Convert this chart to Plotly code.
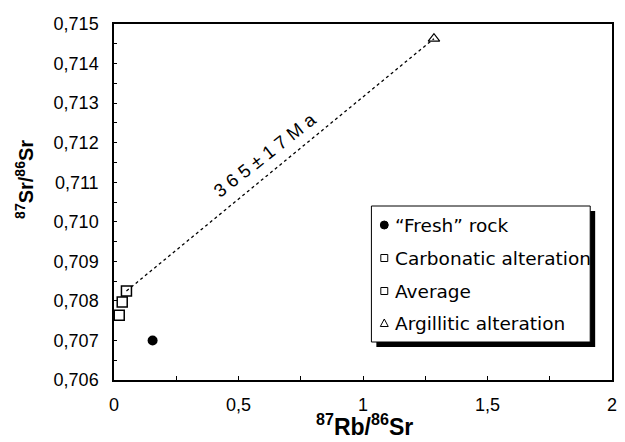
import plotly.graph_objects as go

# 87Rb/86Sr versus 87Sr/86Sr for the sample groups
fresh_rb = [0.155]
fresh_sr = [0.70700]
carb_rb = [0.021, 0.033]
carb_sr = [0.70764, 0.70797]
avg_rb = [0.050]
avg_sr = [0.70825]
argil_rb = [1.285]
argil_sr = [0.71463]

age_label = "365±17 Ma"
legend_labels = ["\u201cFresh\u201d rock", "Carbonatic alteration", "Average", "Argillitic alteration"]
legend_symbols = ["circle-filled", "square", "square", "triangle"]

x_ticks = [0, 0.5, 1, 1.5, 2]
y_ticks = [0.706, 0.707, 0.708, 0.709, 0.710, 0.711, 0.712, 0.713, 0.714, 0.715]

FONT = "Liberation Sans, Arial, sans-serif"
LEG_FONT = "DejaVu Sans, sans-serif"

# figure geometry (pixels)
FW, FH = 625, 442
ML, MR, MT, MB = 114, 8, 24, 62
PW, PH = FW - ML - MR, FH - MT - MB


def pxx(x):
    return (x - ML) / PW


def pxy(y):
    return (FH - MB - y) / PH


fig = go.Figure()

# isochron through the average carbonatic and argillitic samples
iso_x = [avg_rb[0], argil_rb[0]]
iso_y = [avg_sr[0], argil_sr[0]]
fig.add_trace(go.Scatter(x=iso_x, y=iso_y, mode="lines",
                         line=dict(color="black", width=1.3, dash="dot"),
                         hoverinfo="skip"))

fig.add_trace(go.Scatter(x=fresh_rb, y=fresh_sr, mode="markers", name=legend_labels[0],
                         marker=dict(symbol="circle", size=10, color="black")))
fig.add_trace(go.Scatter(x=carb_rb, y=carb_sr, mode="markers", name=legend_labels[1],
                         marker=dict(symbol="square-open", size=10, color="black",
                                     line=dict(width=1.5))))
fig.add_trace(go.Scatter(x=avg_rb, y=avg_sr, mode="markers", name=legend_labels[2],
                         marker=dict(symbol="square-open", size=10, color="black",
                                     line=dict(width=1.5))))
fig.add_trace(go.Scatter(x=argil_rb, y=argil_sr, mode="markers", name=legend_labels[3],
                         marker=dict(symbol="triangle-up-open", size=10, color="black",
                                     line=dict(width=1.2))))

# age label along the isochron
slope = (iso_y[1] - iso_y[0]) / (iso_x[1] - iso_x[0])
lab_x = 0.608
lab_y = iso_y[0] + slope * (lab_x - iso_x[0])
fig.add_annotation(x=lab_x, y=lab_y, xref="x", yref="y", yshift=22,
                   xanchor="center", yanchor="middle",
                   text=" ".join(age_label.replace(" ", "")), showarrow=False,
                   textangle=-38, font=dict(family=FONT, size=18.5, color="black"))

# legend box with drop shadow
bx0, bx1, by0, by1 = 374, 595, 206, 342
shapes = [
    dict(type="rect", xref="paper", yref="paper",
         x0=pxx(bx0 + 5), x1=pxx(bx1 + 5), y0=pxy(by1 + 5), y1=pxy(by0 + 5),
         fillcolor="black", line=dict(width=0), layer="above"),
    dict(type="rect", xref="paper", yref="paper",
         x0=pxx(bx0), x1=pxx(bx1), y0=pxy(by1), y1=pxy(by0),
         fillcolor="white", line=dict(color="black", width=1), layer="above"),
]
rows = [225, 258, 291, 323]
sx = 387
for lab, sym, ry in zip(legend_labels, legend_symbols, rows):
    if sym == "circle-filled":
        shapes.append(dict(type="circle", xref="paper", yref="paper",
                           x0=pxx(sx - 4), x1=pxx(sx + 4), y0=pxy(ry + 4), y1=pxy(ry - 4),
                           fillcolor="black", line=dict(color="black", width=1), layer="above"))
    elif sym == "square":
        shapes.append(dict(type="rect", xref="paper", yref="paper",
                           x0=pxx(sx - 3.5), x1=pxx(sx + 3.5), y0=pxy(ry + 3.5), y1=pxy(ry - 3.5),
                           fillcolor="white", line=dict(color="black", width=1), layer="above"))
    else:
        path = "M {:.5f} {:.5f} L {:.5f} {:.5f} L {:.5f} {:.5f} Z".format(
            pxx(sx - 4), pxy(ry + 3.5), pxx(sx + 4), pxy(ry + 3.5), pxx(sx), pxy(ry - 4))
        shapes.append(dict(type="path", xref="paper", yref="paper", path=path,
                           fillcolor="white", line=dict(color="black", width=1), layer="above"))
    fig.add_annotation(x=pxx(396), y=pxy(ry), xref="paper", yref="paper",
                       xanchor="left", yanchor="middle", text=lab, showarrow=False,
                       font=dict(family=LEG_FONT, size=18.5, color="black"))

# axis titles
fig.add_annotation(x=pxx(23), y=pxy(179), xref="paper", yref="paper", textangle=-90,
                   xanchor="center", yanchor="middle",
                   text="<b><sup>87</sup>Sr/<sup>86</sup>Sr</b>", showarrow=False,
                   font=dict(family=FONT, size=20, color="black"))
fig.add_annotation(x=pxx(367), y=0, xref="paper", yref="paper",
                   xanchor="center", yanchor="bottom", yshift=-MB,
                   text="<b><sup>87</sup>Rb/<sup>86</sup>Sr</b>", showarrow=False,
                   font=dict(family=FONT, size=23, color="black"))

fig.update_layout(
    width=FW, height=FH,
    margin=dict(l=ML, r=MR, t=MT, b=MB, pad=0),
    paper_bgcolor="white", plot_bgcolor="white",
    showlegend=False, separators=", ",
    font=dict(family=FONT, size=18, color="black"),
    shapes=shapes,
)
fig.update_xaxes(range=[0, 2], tickvals=x_ticks, ticks="inside", ticklen=4,
                 tickwidth=1, tickcolor="black", tickfont=dict(family=FONT, size=18),
                 minor=dict(ticks="inside", tick0=0, dtick=0.25, ticklen=4, tickcolor="black"),
                 showline=True, linecolor="black", linewidth=1.5, mirror=True,
                 showgrid=False, zeroline=False, ticklabelstandoff=8)
fig.update_yaxes(range=[0.706, 0.715], tickvals=y_ticks, tickformat=".3f",
                 ticks="inside", ticklen=3, tickwidth=1, tickcolor="black",
                 tickfont=dict(family=FONT, size=18),
                 minor=dict(ticks="inside", tick0=0.706, dtick=0.0005, ticklen=3, tickcolor="black"),
                 showline=True, linecolor="black", linewidth=1.5, mirror=True,
                 showgrid=False, zeroline=False, ticklabelstandoff=10)

fig.write_html("out.html")
